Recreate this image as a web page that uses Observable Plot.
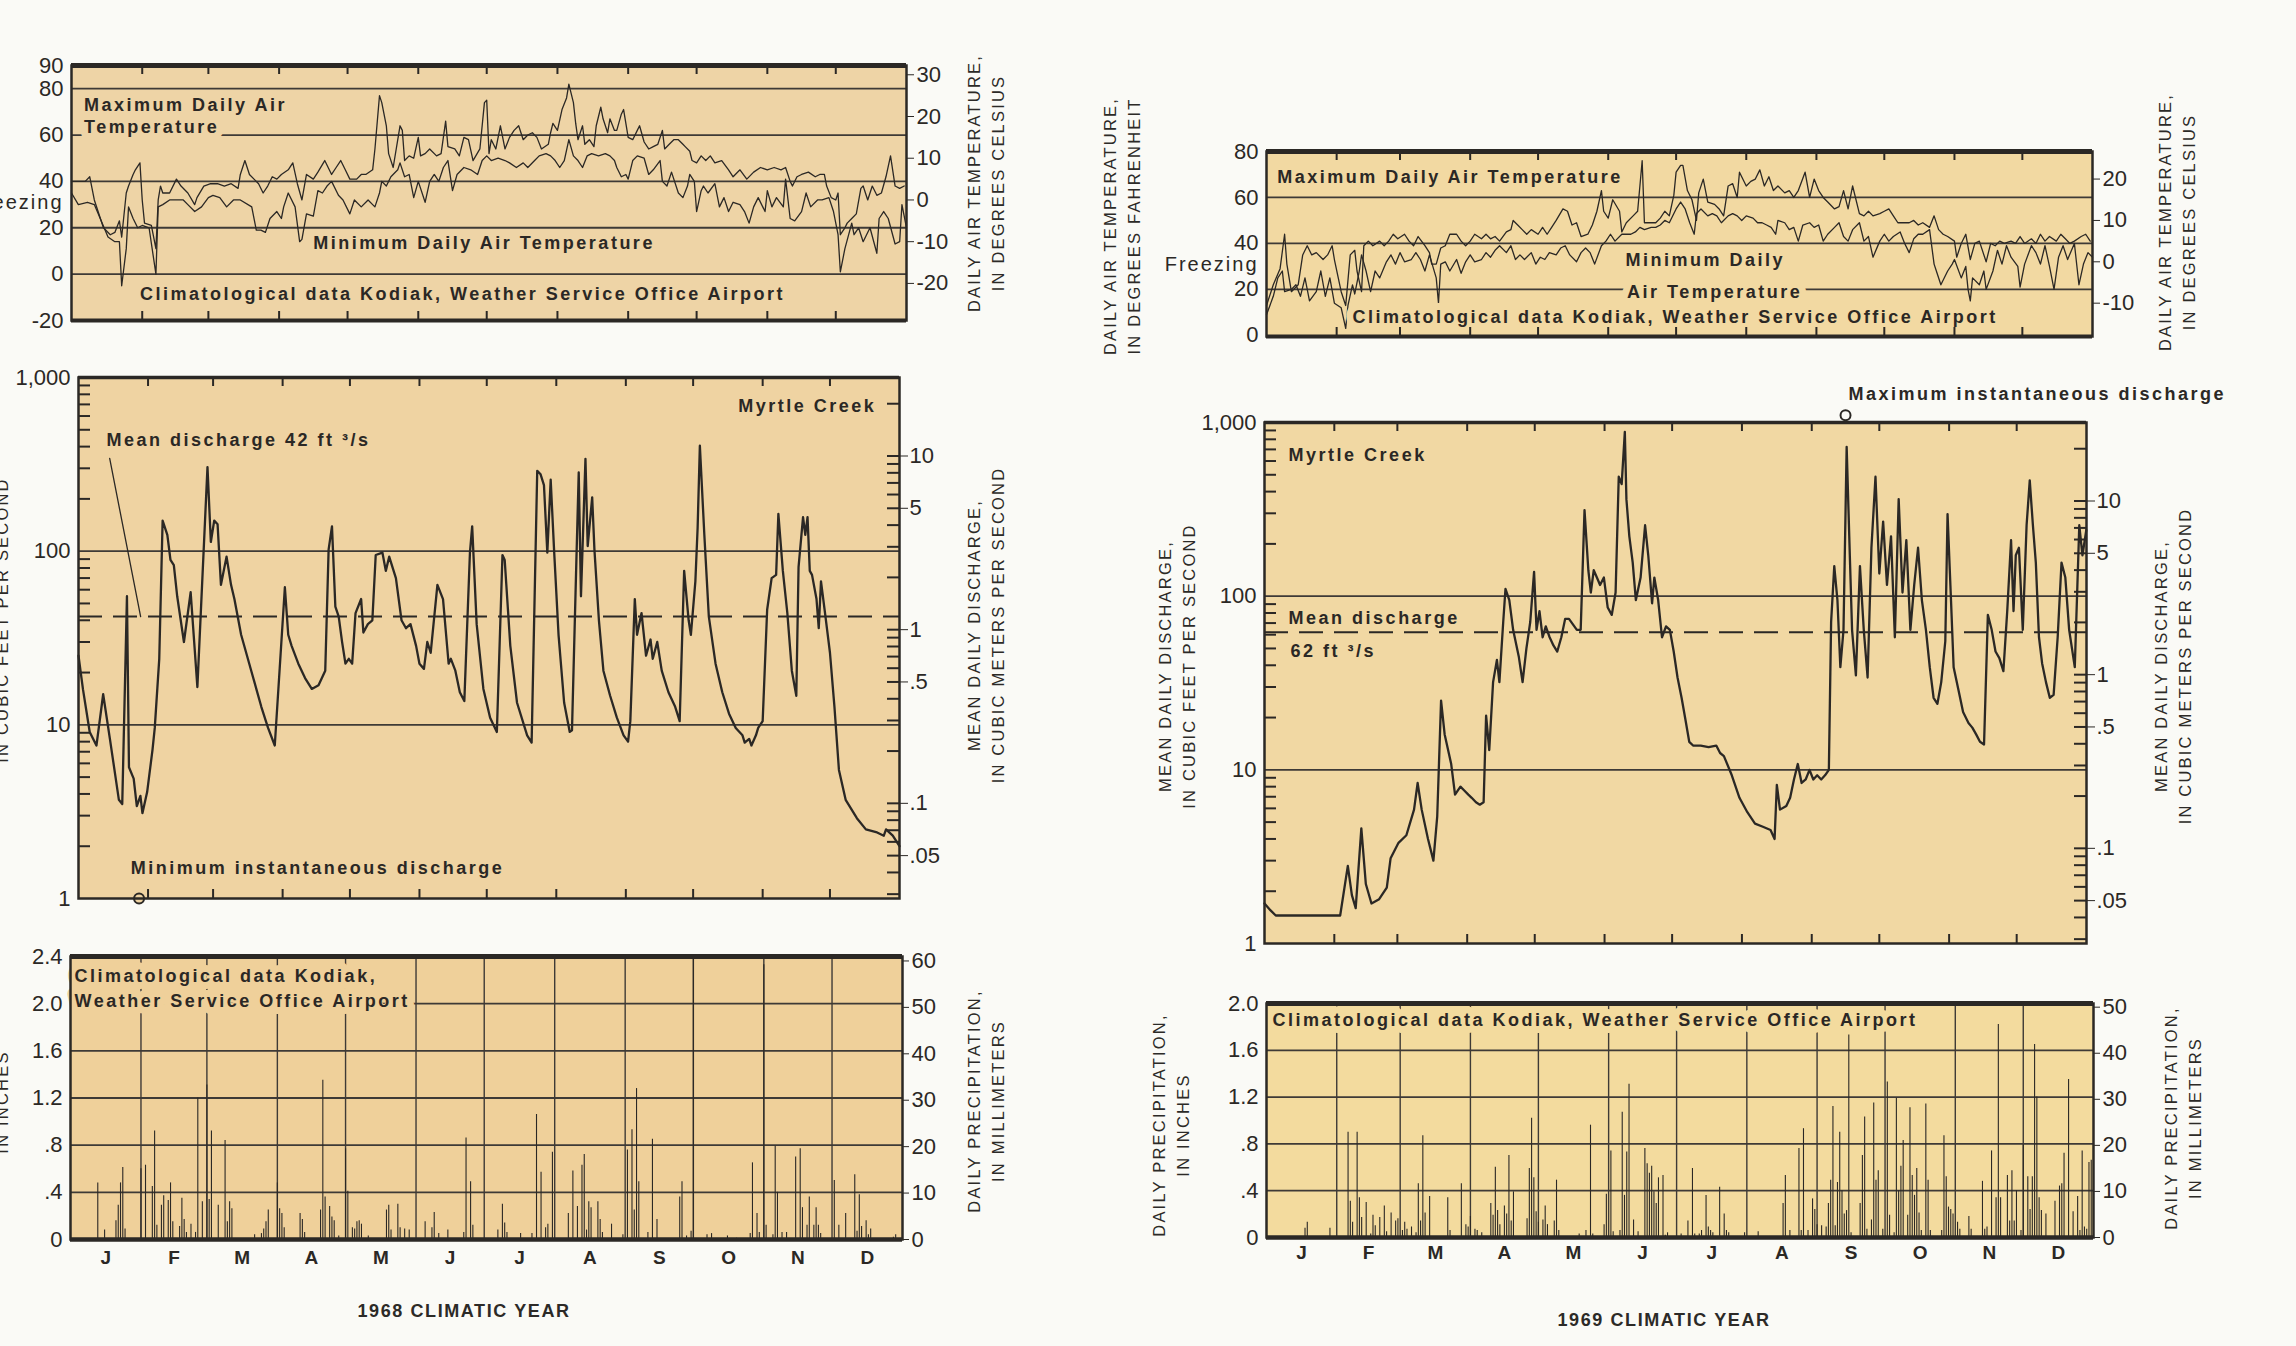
<!DOCTYPE html>
<html><head><meta charset="utf-8">
<script src="https://cdn.jsdelivr.net/npm/d3@7"></script>
<script src="https://cdn.jsdelivr.net/npm/@observablehq/plot@0.6"></script>
<style>
html,body{margin:0;padding:0;background:#fafaf6;width:2296px;height:1346px;overflow:hidden;position:relative;font-family:"Liberation Sans",Arial,sans-serif;color:#2c2a27;}
.vt{position:absolute;transform:translate(-50%,-50%) rotate(-90deg);white-space:nowrap;text-align:center;font-size:16.5px;letter-spacing:2.2px;line-height:24px;}
.xt{position:absolute;transform:translate(-50%,-50%);white-space:nowrap;font-weight:bold;font-size:18px;letter-spacing:1.6px;}
</style></head><body>
<script>
// ---------------- DATA ----------------
const MONTH_LETTERS = ["J","F","M","A","M","J","J","A","S","O","N","D"];
const MONTH_DAYS_1968 = [31,29,31,30,31,30,31,31,30,31,30,31];
const MONTH_DAYS_1969 = [31,28,31,30,31,30,31,31,30,31,30,31];

// daily air temperature, deg F, [day of year, value]
const TMAX_1968 = [[0,40],[6,40],[8,42],[10,32],[14,20],[17,17],[19,18],[21,23],[22,16],[24,35],[25,38],[27,43],[28,45],[30,48],[31,32],[32,22],[35,21],[37,11],[38,32],[39,38],[40,35],[43,35],[46,41],[48,38],[51,35],[54,30],[55,33],[58,38],[61,39],[64,39],[67,38],[70,39],[73,37],[74,43],[76,49],[78,43],[80,41],[82,39],[84,35],[86,38],[88,42],[90,41],[92,43],[95,45],[97,48],[99,39],[101,32],[103,43],[106,41],[108,44],[111,49],[114,43],[116,46],[118,49],[120,45],[122,41],[125,41],[127,43],[129,43],[132,45],[133,54],[135,77],[136,74],[138,64],[139,52],[141,46],[144,64],[145,62],[146,49],[148,51],[150,50],[152,59],[153,51],[155,52],[157,54],[160,51],[162,52],[164,66],[165,55],[168,54],[170,51],[172,59],[174,58],[176,49],[179,54],[181,74],[182,75],[183,52],[184,58],[186,54],[188,64],[190,54],[192,59],[194,62],[196,64],[198,58],[200,60],[202,61],[204,59],[206,54],[209,56],[210,61],[211,65],[213,62],[215,71],[217,76],[218,82],[220,74],[221,65],[222,58],[224,64],[225,56],[227,58],[229,55],[230,64],[232,72],[233,67],[235,61],[236,67],[238,62],[239,62],[241,69],[242,71],[244,59],[246,58],[248,62],[249,64],[251,57],[253,54],[255,55],[257,56],[259,62],[260,54],[262,56],[264,58],[266,58],[268,56],[269,55],[271,53],[272,49],[274,48],[276,51],[278,49],[280,51],[282,48],[285,49],[288,45],[290,42],[293,45],[296,41],[299,44],[302,46],[305,45],[308,46],[311,45],[313,46],[315,40],[316,38],[318,42],[320,43],[323,44],[326,42],[328,43],[330,43],[331,38],[333,33],[335,32],[336,35],[337,17],[339,20],[340,22],[342,24],[344,26],[346,37],[347,38],[349,32],[351,38],[353,34],[355,35],[357,42],[359,51],[361,38],[363,37],[365,38]];
const TMIN_1968 = [[0,35],[3,30],[7,31],[10,30],[13,23],[16,16],[19,14],[21,14],[22,-5],[24,11],[25,29],[27,24],[29,20],[31,21],[34,20],[37,0],[38,29],[40,30],[43,32],[46,32],[49,32],[51,30],[54,27],[57,29],[60,33],[62,34],[65,33],[68,29],[71,32],[74,32],[79,29],[81,19],[83,19],[85,18],[87,24],[90,27],[92,24],[93,29],[95,35],[98,29],[100,14],[101,15],[103,26],[106,25],[108,36],[110,35],[112,38],[114,40],[117,34],[119,32],[122,26],[124,32],[127,29],[130,32],[132,30],[133,29],[135,35],[136,40],[138,38],[140,42],[143,45],[144,48],[146,42],[148,43],[150,33],[152,40],[155,31],[157,40],[159,43],[161,40],[163,46],[165,49],[167,36],[169,43],[172,46],[175,45],[178,43],[180,49],[182,51],[184,49],[187,50],[190,49],[192,48],[195,46],[198,48],[200,46],[203,49],[205,51],[208,52],[210,51],[212,49],[214,46],[216,49],[218,58],[220,51],[222,49],[224,46],[226,51],[228,52],[231,51],[234,52],[236,51],[238,49],[239,46],[241,42],[243,43],[244,41],[246,49],[248,51],[251,50],[253,43],[255,45],[258,49],[259,40],[261,38],[263,44],[266,35],[268,33],[270,38],[271,43],[273,40],[274,27],[276,36],[277,38],[279,35],[282,39],[284,29],[286,33],[288,27],[290,31],[293,30],[295,27],[297,22],[299,29],[301,33],[304,27],[305,36],[307,29],[309,33],[312,29],[313,41],[315,24],[317,23],[320,27],[322,35],[324,29],[327,32],[329,32],[332,33],[334,27],[336,17],[337,1],[339,11],[342,22],[343,17],[345,20],[347,14],[350,20],[353,9],[354,24],[356,27],[358,24],[361,13],[363,14],[364,30],[366,20]];
const TMAX_1969 = [[0,13],[3,22],[6,29],[8,44],[9,31],[11,19],[14,22],[16,35],[18,39],[20,35],[22,36],[25,33],[27,35],[29,39],[30,33],[33,19],[35,13],[37,35],[39,37],[40,28],[42,19],[43,39],[45,41],[47,39],[50,41],[52,39],[54,41],[56,44],[58,42],[61,44],[63,41],[65,39],[67,43],[70,39],[72,36],[73,31],[75,31],[77,38],[79,39],[81,44],[84,44],[86,41],[88,39],[90,41],[92,44],[95,42],[97,44],[99,42],[101,43],[103,41],[106,45],[108,46],[109,50],[111,48],[113,46],[115,44],[117,46],[120,44],[122,47],[124,44],[126,47],[128,50],[131,55],[133,54],[135,48],[137,49],[139,43],[142,44],[144,48],[146,54],[148,63],[149,54],[151,51],[153,59],[156,54],[157,45],[159,49],[162,52],[164,54],[166,76],[167,49],[170,49],[172,49],[174,51],[176,54],[178,52],[180,61],[181,71],[183,74],[184,74],[186,63],[188,59],[190,50],[191,62],[193,68],[195,58],[198,57],[200,55],[202,52],[204,65],[206,66],[208,60],[209,71],[212,65],[214,67],[216,68],[218,72],[220,65],[222,69],[224,63],[226,65],[229,62],[231,63],[233,60],[235,63],[238,71],[240,60],[242,68],[244,63],[246,60],[248,58],[251,55],[253,56],[255,63],[257,55],[259,65],[262,53],[264,52],[266,54],[268,52],[271,53],[273,54],[275,55],[277,52],[279,49],[282,49],[284,49],[286,50],[288,48],[290,49],[293,47],[295,52],[297,46],[299,44],[301,43],[304,41],[305,34],[307,40],[309,44],[311,33],[313,40],[315,41],[318,32],[320,40],[322,39],[324,41],[326,40],[329,41],[331,40],[333,43],[335,40],[338,42],[340,40],[342,44],[344,41],[346,43],[349,41],[351,44],[353,42],[355,40],[357,41],[360,43],[362,44],[364,41]];
const TMIN_1969 = [[0,9],[3,17],[5,25],[7,28],[8,19],[11,20],[13,22],[15,17],[17,25],[19,15],[22,19],[24,28],[26,17],[28,25],[30,14],[33,12],[35,3],[36,13],[38,22],[39,18],[41,28],[42,35],[44,28],[46,19],[48,28],[50,25],[53,32],[55,35],[57,31],[59,36],[61,32],[64,33],[66,36],[68,33],[70,28],[72,35],[75,25],[76,14],[77,31],[79,32],[81,28],[84,33],[86,27],[88,32],[90,35],[92,32],[95,33],[97,36],[99,34],[101,37],[103,39],[106,36],[108,39],[110,33],[112,35],[114,33],[117,36],[119,31],[121,34],[123,33],[125,36],[128,35],[130,38],[132,39],[134,35],[137,32],[139,36],[141,38],[143,36],[145,31],[148,39],[150,41],[152,44],[154,41],[157,44],[159,44],[161,44],[163,45],[165,47],[167,46],[170,47],[172,47],[174,48],[176,50],[178,49],[181,55],[183,58],[185,55],[187,49],[189,44],[190,53],[192,55],[195,52],[197,53],[199,52],[201,49],[204,52],[206,53],[208,52],[210,50],[212,52],[215,51],[217,49],[219,49],[221,48],[223,47],[225,44],[226,50],[229,49],[231,46],[233,47],[235,41],[237,48],[240,49],[242,47],[244,48],[246,41],[248,44],[251,47],[253,49],[255,43],[257,41],[259,46],[262,49],[264,41],[266,43],[268,34],[271,41],[273,44],[275,41],[277,43],[280,45],[282,40],[284,36],[286,42],[288,44],[290,44],[293,46],[295,31],[296,28],[298,22],[301,28],[303,31],[304,33],[307,25],[309,30],[310,20],[311,15],[312,25],[315,22],[317,28],[318,20],[321,28],[323,37],[325,31],[327,39],[329,34],[332,30],[333,21],[335,31],[338,39],[340,36],[342,31],[344,39],[346,30],[348,20],[350,34],[352,39],[354,33],[357,40],[359,22],[361,31],[363,36],[365,34]];

// mean daily discharge, ft3/s, [day of year, value]
const Q_1968 = [[0,25],[2,16],[5,9.1],[8,7.6],[11,15],[14,8.3],[18,3.7],[19.5,3.5],[21.6,55],[22.5,5.7],[24.6,4.9],[26,3.4],[27.6,3.9],[28.5,3.1],[30.6,4.1],[33,7.2],[34,9.6],[36,24],[37.5,150],[39.6,124],[41,89],[42.5,83],[44,55],[47,30],[50,58],[53,16.5],[57.5,305],[59,113],[60.5,150],[62,143],[63.5,64],[66,93],[68,64],[69.5,53],[72.5,33],[77,20.5],[81.5,12.7],[84.5,9.6],[87.5,7.6],[92,62],[93.5,33],[95,28.5],[98,22.5],[101,18.6],[104,16.1],[107,16.9],[110,20.5],[111.5,102],[113,139],[114.5,48],[116,42],[117.5,30],[119,22.5],[120.5,24],[122,22.5],[123.5,44],[126,53],[127,34],[129,38],[131,40],[132.5,95],[135.5,98],[137,77],[138.5,93],[141.5,70],[144,40],[146,36],[148,38],[150.5,28.5],[152,22.5],[154,21],[155.5,30],[157,26],[160,64],[162.5,53],[165,22.5],[166,24],[168,20.5],[170,15.4],[172,13.7],[174.5,98],[175.5,139],[177.5,38],[180.5,16.1],[183.5,11],[186.5,9.1],[189,95],[190,89],[192.5,28.5],[195.5,13.4],[200,8.7],[202,7.9],[204.5,290],[206,277],[207.5,240],[209,98],[210.5,258],[212,102],[214,33],[216.5,13.4],[219,9.1],[220,9.3],[222,93],[223,284],[224,55],[226,340],[227,107],[229,204],[230,102],[232,40],[234,20.5],[237,14.7],[240,11],[243,8.7],[245,8],[246,10.5],[248,53],[249,33],[251,44],[253,25],[255,31],[256,24],[258,30],[260,20.5],[263,15.4],[266,12.7],[268,10.5],[270,77],[272,40],[273,33],[275,67],[276,136],[277,405],[279,124],[281,42],[284,22.5],[287,15.4],[290,11.6],[293,9.6],[296,8.7],[297,7.9],[299,8.3],[300,7.6],[302,8.7],[303,9.6],[305,10.5],[307,46],[309,70],[311,73],[312,164],[314,77],[316,44],[318,20.5],[320,14.7],[321,81],[323,157],[324,124],[325,157],[326,77],[327,73],[329,53],[330,36],[331,67],[333,42],[335,26],[337,12.7],[339,5.5],[342,3.7],[347,2.9],[351,2.5],[356,2.4],[359,2.3],[360,2.5],[363,2.3],[366,2.0]];
const Q_1969 = [[0,1.7],[2.7,1.55],[5,1.45],[33.6,1.45],[37,2.8],[38.8,1.9],[40.5,1.6],[43,4.6],[45,2.2],[47.5,1.7],[50.9,1.8],[54.3,2.1],[56,3.1],[59.5,3.8],[63,4.2],[66.4,5.9],[68,8.4],[69.8,5.9],[72.6,4.0],[75,3.0],[76.7,5.4],[78.4,25],[80,16],[82.9,10.8],[84.6,7.2],[87,8.0],[88.7,7.6],[90.5,7.2],[92,6.9],[93.9,6.5],[95.6,6.3],[97.3,6.5],[98.4,20.5],[99.8,13],[101.5,32],[103.2,43],[104.3,32],[106,71],[107,110],[108.7,95],[110.4,64],[112.9,45],[114.6,32],[116.3,50],[118,71],[119.7,138],[120.8,64],[122.1,82],[123.5,58],[124.9,67],[126.6,58],[128.3,52],[130,48],[131.8,58],[133.5,74],[135.2,74],[138.7,64],[140.4,64],[142.1,313],[143.8,141],[144.9,105],[146.2,141],[147.6,128],[149,116],[150.7,128],[152.4,86],[154.2,78],[155.9,105],[157.3,487],[158.6,442],[160,883],[160.7,362],[162,221],[163.5,156],[164.9,95],[167,128],[169,256],[170.4,172],[172.1,91],[173.1,128],[174.8,95],[176.5,58],[178.3,67],[180,64],[181.7,48],[183.4,34],[185.2,26],[186.9,19.5],[188.6,14.5],[190.3,13.8],[193.7,13.8],[197.2,13.5],[200.6,13.8],[202.3,12.5],[204,12],[207.5,9.3],[210.9,6.9],[214.4,5.7],[217.8,4.9],[221.3,4.7],[224.7,4.5],[226.5,4.0],[227.5,8.2],[228.9,5.9],[231.7,6.2],[233.4,6.9],[235.1,8.8],[236.8,10.8],[238.5,8.4],[240.3,8.8],[242,10],[243.7,8.8],[245.4,9.3],[247.2,8.8],[248.9,9.3],[250.6,10],[251.6,71],[253,149],[254.4,95],[255.7,39],[257.1,64],[258.5,724],[259.9,172],[260.9,64],[262.6,35],[264.4,149],[266.1,64],[267.8,34],[269.5,190],[271.3,487],[273,135],[274.7,269],[276.4,116],[278.2,221],[279.9,58],[281.6,362],[283.3,105],[285,210],[286.8,64],[288.5,116],[290.2,190],[291.9,95],[293.7,64],[295.4,39],[297.1,26],[298.8,24],[300.5,32],[302.3,55],[303.3,297],[304.7,105],[306,39],[308.1,29],[310.2,21.5],[312.6,18.6],[314.3,17.5],[316,16],[317.7,14.5],[319.5,14],[321.2,78],[322.9,64],[324.6,48],[326.3,44],[328.1,37],[329.8,82],[331.5,210],[332.6,82],[333.6,172],[335,190],[336.7,64],[338.4,256],[339.8,464],[341.2,256],[342.5,156],[343.9,58],[345.3,41],[347,32],[348.7,26],[350.4,27],[352.2,58],[353.9,156],[355.6,128],[357.3,64],[359.8,39],[361.8,256],[363.2,172],[364.9,240]];
const MEAN_Q_1968 = 42;
const MEAN_Q_1969 = 62;
const MIN_INST_1968 = [[27,1.0]];
const MAX_INST_1969 = [[258,1100]];

// daily precipitation, inches, [day of year, value]
const P_1968 = [[12,0.48],[15,0.08],[20,0.16],[21,0.29],[22,0.48],[23,0.61],[24,0.09],[31,0.60],[33,0.63],[36,0.45],[37,0.92],[38,0.12],[40,0.29],[41,0.37],[43,0.33],[44,0.48],[45,0.15],[48,0.11],[49,0.35],[50,0.17],[51,0.06],[53,0.13],[55,0.06],[56,1.20],[58,0.32],[60,1.31],[61,0.34],[62,0.92],[65,0.29],[68,0.84],[69,0.15],[70,0.32],[71,0.26],[81,0.04],[84,0.05],[85,0.09],[86,0.15],[87,0.25],[91,0.48],[92,0.26],[93,0.22],[94,0.10],[101,0.22],[102,0.17],[103,0.06],[110,0.25],[111,1.35],[112,0.36],[114,0.28],[115,0.19],[116,0.16],[118,0.03],[121,0.77],[122,0.41],[124,0.10],[125,0.09],[126,0.15],[127,0.16],[128,0.13],[131,0.03],[139,0.25],[140,0.29],[141,0.08],[144,0.30],[145,0.10],[147,0.09],[149,0.08],[156,0.15],[159,0.10],[160,0.23],[162,0.05],[166,0.08],[173,0.06],[174,0.86],[176,0.49],[177,0.12],[188,0.08],[190,0.30],[191,0.14],[192,0.06],[198,0.05],[203,0.05],[205,1.06],[207,0.57],[209,0.10],[210,0.13],[212,0.74],[219,0.22],[221,0.58],[223,0.28],[225,0.63],[226,0.72],[227,0.08],[228,0.32],[229,0.27],[232,0.32],[233,0.17],[234,0.06],[238,0.13],[243,0.04],[245,0.76],[247,0.93],[248,0.25],[249,1.28],[250,0.49],[254,0.06],[256,0.85],[258,0.17],[268,0.36],[269,0.49],[271,0.03],[273,0.07],[274,2.38],[280,0.04],[282,0.05],[289,0.03],[293,0.01],[299,0.05],[300,0.65],[302,0.22],[303,0.06],[305,2.33],[306,0.12],[309,0.04],[310,0.79],[311,0.40],[313,0.06],[315,0.06],[319,0.70],[321,0.77],[322,0.27],[324,0.12],[325,0.36],[327,0.12],[328,0.27],[329,0.12],[330,0.05],[336,0.50],[338,0.12],[341,0.22],[345,0.55],[346,0.07],[347,0.38],[348,0.11],[350,0.16],[351,0.04],[352,0.09],[362,0.02],[363,0.04]];
const P_1969 = [[17,0.08],[18,0.13],[28,0.08],[36,0.90],[37,0.31],[38,0.13],[40,0.90],[41,0.34],[42,0.17],[44,0.30],[46,0.03],[47,0.19],[48,0.10],[50,0.17],[52,0.27],[53,0.05],[55,0.21],[57,0.14],[58,0.16],[60,0.06],[61,0.13],[62,0.07],[64,0.09],[66,0.04],[67,0.46],[68,0.14],[69,0.87],[70,0.21],[72,0.35],[80,0.34],[81,0.06],[86,0.46],[88,0.11],[89,0.09],[90,0.18],[92,0.07],[93,0.06],[95,0.04],[99,0.29],[100,0.19],[101,0.60],[102,0.23],[103,0.11],[105,0.27],[106,0.20],[107,0.70],[108,0.14],[109,0.39],[115,0.16],[116,0.59],[117,1.02],[118,0.51],[119,0.22],[120,0.13],[122,0.15],[123,0.27],[124,0.11],[127,0.14],[128,0.49],[129,0.06],[138,0.03],[141,0.06],[143,0.96],[144,0.03],[149,0.11],[150,0.37],[152,0.74],[153,0.05],[156,0.06],[157,1.07],[158,0.36],[159,0.73],[160,1.31],[162,0.15],[164,0.05],[167,0.76],[168,0.63],[169,0.55],[170,0.61],[171,0.39],[172,0.29],[173,0.51],[175,0.53],[176,0.02],[177,0.04],[183,0.03],[186,0.14],[188,0.59],[189,0.03],[191,0.03],[192,0.06],[194,0.36],[195,0.09],[196,0.06],[197,0.04],[200,0.43],[202,0.20],[203,0.06],[204,0.04],[211,0.04],[217,0.05],[228,0.29],[229,0.53],[231,0.06],[235,0.76],[236,0.06],[237,0.93],[239,0.06],[241,0.33],[242,0.24],[243,0.11],[245,0.10],[247,0.09],[248,0.29],[249,0.49],[250,1.12],[251,0.10],[252,0.47],[253,0.90],[254,0.40],[255,0.20],[256,0.23],[257,1.73],[258,0.04],[262,0.29],[263,0.70],[264,1.03],[265,0.07],[267,0.15],[268,1.15],[269,0.49],[270,0.57],[272,0.07],[274,1.33],[275,0.19],[277,0.04],[278,1.19],[279,0.40],[280,0.61],[281,0.83],[283,0.19],[284,1.11],[285,0.53],[286,0.36],[287,0.59],[288,0.21],[289,0.06],[291,1.14],[292,0.49],[293,0.06],[298,0.06],[299,0.87],[300,0.52],[301,0.26],[302,0.24],[303,0.20],[305,0.13],[306,0.07],[310,0.18],[311,0.07],[316,0.48],[317,0.07],[318,0.09],[320,0.74],[322,0.34],[323,1.82],[324,0.34],[327,0.53],[328,0.14],[329,0.57],[330,0.14],[331,0.40],[333,0.06],[334,0.79],[336,0.52],[337,0.24],[338,0.52],[339,1.65],[340,1.20],[341,0.34],[342,0.23],[344,0.20],[348,0.31],[350,0.44],[351,0.46],[352,0.72],[354,1.35],[356,0.22],[358,0.35],[359,0.06],[360,0.74],[361,0.09],[362,0.07],[363,0.64],[364,0.66]];

// axis tick values
const TEMP_F_TICKS_1968 = [-20,0,20,40,60,80,90];
const TEMP_F_TICKS_1969 = [0,20,40,60,80];
const FREEZING_F = [32];
const TEMP_C_TICKS_1968 = [-20,-10,0,10,20,30];
const TEMP_C_TICKS_1969 = [-10,0,10,20];
const TEMP_GRID_1968 = [80,60,40,20,0];
const TEMP_GRID_1969 = [60,40,20];
const Q_FT_TICKS = [1,10,100,1000];
const Q_FT_MINOR = [2,3,4,5,6,7,8,9,20,30,40,50,60,70,80,90,200,300,400,500,600,700,800,900];
const Q_CMS_TICKS = [0.05,0.1,0.5,1,5,10];
const Q_CMS_MINOR = [0.03,0.04,0.05,0.06,0.07,0.08,0.09,0.1,0.2,0.3,0.4,0.5,0.6,0.7,0.8,0.9,1,2,3,4,5,6,7,8,9,10,20];
const Q_GRID = [10,100];
const P_IN_TICKS_1968 = [0,0.4,0.8,1.2,1.6,2.0,2.4];
const P_IN_TICKS_1969 = [0,0.4,0.8,1.2,1.6,2.0];
const P_MM_TICKS_1968 = [0,10,20,30,40,50,60];
const P_MM_TICKS_1969 = [0,10,20,30,40,50];
const P_GRID_1968 = [0.4,0.8,1.2,1.6,2.0];
const P_GRID_1969 = [0.4,0.8,1.2,1.6];

// annotations (data coordinates)
const NOTES_T_1968 = [
  {day:5.5, v:73, text:"Maximum Daily Air"},
  {day:5.5, v:63.5, text:"Temperature"},
  {day:106, v:13.5, text:"Minimum Daily Air Temperature"},
  {day:30, v:-8.5, text:"Climatological data Kodiak, Weather Service Office Airport"}
];
const NOTES_T_1969 = [
  {day:4.7, v:69, text:"Maximum Daily Air Temperature"},
  {day:158.6, v:32.7, text:"Minimum Daily"},
  {day:159.3, v:18.8, text:"Air Temperature"},
  {day:38, v:8, text:"Climatological data Kodiak, Weather Service Office Airport"}
];
const NOTES_Q_1968 = [
  {day:355.7, v:680, text:"Myrtle Creek", anchor:"end"},
  {day:12.5, v:434, text:"Mean discharge 42 ft \u00b3/s"},
  {day:23.3, v:1.49, text:"Minimum instantaneous discharge"}
];
const LEADER_Q_1968 = [[13.9,342],[27.7,42]];
const NOTES_Q_1969 = [
  {day:259.3, v:1458, text:"Maximum instantaneous discharge"},
  {day:10.7, v:650, text:"Myrtle Creek"},
  {day:10.7, v:75, text:"Mean discharge"},
  {day:11.5, v:48, text:"62 ft \u00b3/s"}
];
const NOTES_P_1968 = [
  {day:1.8, v:2.23, text:"Climatological data Kodiak,"},
  {day:1.8, v:2.02, text:"Weather Service Office Airport"}
];
const NOTES_P_1969 = [
  {day:2.6, v:1.86, text:"Climatological data Kodiak, Weather Service Office Airport"}
];

// ---------------- STYLE / LAYOUT ----------------
const FONT = '"Liberation Sans", Arial, Helvetica, sans-serif';
const INK = "#2b2825";
const GRID = "#3e3a36";
const ML = 140, MR = 90, MT = 50, MB = 70;

function monthInfo(lengths) {
  const bounds = [0, ...d3.cumsum(lengths)];
  return {
    bounds,
    inner: bounds.slice(1, -1),
    mids: lengths.map((l, i) => ({x: bounds[i] + l / 2, letter: MONTH_LETTERS[i]}))
  };
}
const M68 = monthInfo(MONTH_DAYS_1968);
const M69 = monthInfo(MONTH_DAYS_1969);

function place(g, yScale, xDomain, marks) {
  const iw = g.x1 - g.x0, ih = g.y1 - g.y0;
  const svg = Plot.plot({
    width: iw + ML + MR, height: ih + MT + MB,
    marginLeft: ML, marginRight: MR, marginTop: MT, marginBottom: MB,
    x: {domain: xDomain, axis: null},
    y: yScale,
    style: {background: "transparent", overflow: "visible", fontFamily: FONT, fontSize: "22px", color: INK},
    marks: marks(iw, ih)
  });
  // annotation text marks: widely letter-spaced, as in the drafted original
  svg.querySelectorAll('g[aria-label="text"] text').forEach(t => {
    if (t.textContent.length > 1) t.style.letterSpacing = "2.5px";
  });
  svg.querySelectorAll('text').forEach(t => {
    if (t.textContent === "Freezing") t.style.letterSpacing = "2px";
  });
  svg.style.position = "absolute";
  svg.style.left = (g.x0 - ML) + "px";
  svg.style.top = (g.y0 - MT) + "px";
  document.body.appendChild(svg);
}

const X = d => d[0], Y = d => d[1];
function notes(data, bg, halo = true) {
  const base = {x: "day", y: "v", text: "text", fontSize: 18, fontWeight: "bold", fill: INK};
  if (halo) Object.assign(base, {stroke: bg, strokeWidth: 14, strokeLinejoin: "round", paintOrder: "stroke"});
  return [
    Plot.text(data.filter(d => d.anchor !== "end"), {...base, textAnchor: "start"}),
    Plot.text(data.filter(d => d.anchor === "end"), {...base, textAnchor: "end"})
  ];
}
function monthTicks(inner, ih) {
  return [
    Plot.tickX(inner, {insetBottom: ih - 9, stroke: INK, strokeWidth: 2}),
    Plot.tickX(inner, {insetTop: ih - 9, stroke: INK, strokeWidth: 2})
  ];
}
const fmtIn = d => d === 0 ? "0" : d < 1 ? String(d).replace(/^0/, "") : d.toFixed(1);
const fmtCms = d => d < 1 ? String(d).replace(/^0/, "") : String(d);

// ---------- Temperature panels ----------
function tempPanel(g, dom, grid, fTicks, cTicks, tmax, tmin, nts, M, xDom, bg) {
  place(g, {domain: dom}, xDom, (iw, ih) => [
    Plot.frame({fill: bg, stroke: "none"}),
    Plot.ruleY(grid, {stroke: GRID, strokeWidth: 1.8}),
    Plot.line(tmax, {x: X, y: Y, stroke: INK, strokeWidth: 1.3}),
    Plot.line(tmin, {x: X, y: Y, stroke: INK, strokeWidth: 1.3}),
    ...notes(nts, bg),
    ...monthTicks(M.inner, ih),
    Plot.axisY(fTicks, {anchor: "left", tickSize: 0, tickPadding: 8, label: null, tickFormat: d => String(d)}),
    Plot.axisY(FREEZING_F, {anchor: "left", tickSize: 0, tickPadding: 8, label: null, fontSize: 20, dy: 3,
      tickFormat: () => "Freezing"}),
    Plot.axisY(cTicks.map(c => c * 9 / 5 + 32), {anchor: "right", tickSize: 7, tickPadding: 3, label: null,
      tickFormat: f => String(Math.round((f - 32) * 5 / 9))}),
    Plot.frame({stroke: INK, strokeWidth: 2.5}),
    Plot.ruleY([dom[1]], {stroke: INK, strokeWidth: 5}),
    Plot.ruleY([dom[0]], {stroke: INK, strokeWidth: 4})
  ]);
}
tempPanel({x0: 71, x1: 906, y0: 65, y1: 320}, [-20, 90], TEMP_GRID_1968, TEMP_F_TICKS_1968, TEMP_C_TICKS_1968,
  TMAX_1968, TMIN_1968, NOTES_T_1968, M68, [0, 366], "#eed4a6");
tempPanel({x0: 1266, x1: 2092, y0: 151, y1: 336}, [-0.5, 80], TEMP_GRID_1969, TEMP_F_TICKS_1969, TEMP_C_TICKS_1969,
  TMAX_1969, TMIN_1969, NOTES_T_1969, M69, [0, 365], "#f2d9a2");

// ---------- Discharge panels ----------
function qPanel(g, q, mean, nts, extra, M, xDom, bg) {
  const CMS = 35.3147;
  place(g, {type: "log", domain: [1, 1000]}, xDom, (iw, ih) => [
    Plot.frame({fill: bg, stroke: "none"}),
    Plot.ruleY(Q_GRID, {stroke: GRID, strokeWidth: 1.8}),
    Plot.ruleY([mean], {stroke: INK, strokeWidth: 2, strokeDasharray: "24,11"}),
    Plot.line(q, {x: X, y: Y, stroke: INK, strokeWidth: 2.3, strokeLinejoin: "round"}),
    ...extra,
    ...notes(nts, bg, false),
    ...monthTicks(M.inner, ih),
    Plot.tickY(Q_FT_MINOR, {insetRight: iw - 12, stroke: INK, strokeWidth: 2}),
    Plot.tickY(Q_CMS_MINOR.map(c => c * CMS), {insetLeft: iw - 12, stroke: INK, strokeWidth: 2}),
    Plot.axisY(Q_FT_TICKS, {anchor: "left", tickSize: 0, tickPadding: 8, label: null, tickFormat: d3.format(",")}),
    Plot.axisY(Q_CMS_TICKS.map(c => c * CMS), {anchor: "right", tickSize: 8, tickPadding: 2, label: null,
      tickFormat: f => fmtCms(Math.round(f / CMS * 100) / 100)}),
    Plot.frame({stroke: INK, strokeWidth: 2.5}),
    Plot.ruleY([1000], {stroke: INK, strokeWidth: 3.5})
  ]);
}
qPanel({x0: 78, x1: 899, y0: 377, y1: 898}, Q_1968, MEAN_Q_1968, NOTES_Q_1968, [
  Plot.line(LEADER_Q_1968, {x: X, y: Y, stroke: INK, strokeWidth: 1.3}),
  Plot.dot(MIN_INST_1968, {x: X, y: Y, r: 5, stroke: INK, strokeWidth: 2, fill: "#efd3a2"})
], M68, [0, 366], "#efd3a2");
qPanel({x0: 1264, x1: 2086, y0: 422, y1: 943}, Q_1969, MEAN_Q_1969, NOTES_Q_1969, [
  Plot.dot(MAX_INST_1969, {x: X, y: Y, r: 5, stroke: INK, strokeWidth: 2, fill: "#fafaf6"})
], M69, [0, 365], "#f1d8a3");

// ---------- Precipitation panels ----------
function pPanel(g, dom, grid, inTicks, mmTicks, p, nts, M, xDom, bg, dy) {
  place(g, {domain: dom}, xDom, (iw, ih) => [
    Plot.frame({fill: bg, stroke: "none"}),
    Plot.ruleY(grid, {stroke: GRID, strokeWidth: 1.8}),
    Plot.ruleX(M.inner, {stroke: GRID, strokeWidth: 1.4}),
    Plot.ruleX(p, {x: X, y1: 0, y2: Y, stroke: INK, strokeWidth: 1.1}),
    ...notes(nts, bg),
    Plot.axisY(inTicks, {anchor: "left", tickSize: 0, tickPadding: 8, label: null, tickFormat: fmtIn}),
    Plot.axisY(mmTicks.map(m => m / 25.4), {anchor: "right", tickSize: 6, tickPadding: 3, label: null,
      tickFormat: v => String(Math.round(v * 25.4))}),
    Plot.text(M.mids, {x: "x", text: "letter", frameAnchor: "bottom", dy: dy, fontSize: 19, fontWeight: "bold", fill: INK}),
    Plot.frame({stroke: INK, strokeWidth: 2.5}),
    Plot.ruleY([dom[1]], {stroke: INK, strokeWidth: 5}),
    Plot.ruleY([0], {stroke: INK, strokeWidth: 4.5})
  ]);
}
pPanel({x0: 70, x1: 902, y0: 956, y1: 1239}, [0, 2.4], P_GRID_1968, P_IN_TICKS_1968, P_MM_TICKS_1968,
  P_1968, NOTES_P_1968, M68, [0, 366], "#efd09a", 24);
pPanel({x0: 1266, x1: 2093, y0: 1003, y1: 1237}, [0, 2.0], P_GRID_1969, P_IN_TICKS_1969, P_MM_TICKS_1969,
  P_1969, NOTES_P_1969, M69, [0, 365], "#f3db9e", 21);

// ---------- Titles ----------
const TITLES = [
  {x: -60, y: 190, html: "DAILY AIR TEMPERATURE,<br>IN DEGREES FAHRENHEIT"},
  {x: 986, y: 183, html: "DAILY AIR TEMPERATURE,<br>IN DEGREES CELSIUS"},
  {x: -10, y: 620, html: "MEAN DAILY DISCHARGE,<br>IN CUBIC FEET PER SECOND"},
  {x: 986, y: 625, html: "MEAN DAILY DISCHARGE,<br>IN CUBIC METERS PER SECOND"},
  {x: -10, y: 1102, html: "DAILY PRECIPITATION,<br>IN INCHES"},
  {x: 986, y: 1101, html: "DAILY PRECIPITATION,<br>IN MILLIMETERS"},
  {x: 1122, y: 226, html: "DAILY AIR TEMPERATURE,<br>IN DEGREES FAHRENHEIT"},
  {x: 2177, y: 222, html: "DAILY AIR TEMPERATURE,<br>IN DEGREES CELSIUS"},
  {x: 1177, y: 666, html: "MEAN DAILY DISCHARGE,<br>IN CUBIC FEET PER SECOND"},
  {x: 2173, y: 666, html: "MEAN DAILY DISCHARGE,<br>IN CUBIC METERS PER SECOND"},
  {x: 1171, y: 1125, html: "DAILY PRECIPITATION,<br>IN INCHES"},
  {x: 2183, y: 1118, html: "DAILY PRECIPITATION,<br>IN MILLIMETERS"}
];
for (const t of TITLES) {
  const d = document.createElement("div");
  d.className = "vt"; d.style.left = t.x + "px"; d.style.top = t.y + "px"; d.innerHTML = t.html;
  document.body.appendChild(d);
}
const XTITLES = [{x: 464, y: 1311, text: "1968 CLIMATIC YEAR"}, {x: 1664, y: 1320, text: "1969 CLIMATIC YEAR"}];
for (const t of XTITLES) {
  const d = document.createElement("div");
  d.className = "xt"; d.style.left = t.x + "px"; d.style.top = t.y + "px"; d.textContent = t.text;
  document.body.appendChild(d);
}
</script>
</body></html>
